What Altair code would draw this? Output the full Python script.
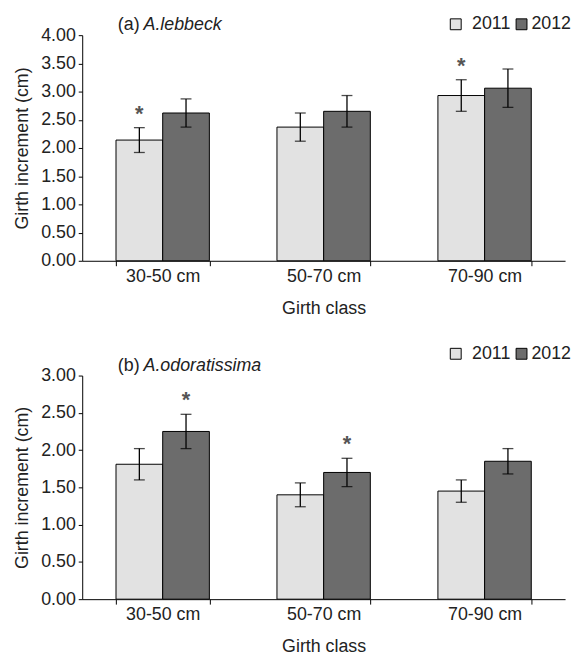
import altair as alt
import pandas as pd

classes = ["30-50 cm", "50-70 cm", "70-90 cm"]
years = ["2011", "2012"]

a_2011 = [2.14, 2.37, 2.93]
a_2012 = [2.62, 2.65, 3.06]
a_err_2011 = [0.22, 0.25, 0.28]
a_err_2012 = [0.25, 0.28, 0.34]
a_sig_2011 = ["*", "", "*"]
a_sig_2012 = ["", "", ""]

b_2011 = [1.81, 1.40, 1.45]
b_2012 = [2.25, 1.70, 1.85]
b_err_2011 = [0.21, 0.16, 0.15]
b_err_2012 = [0.23, 0.19, 0.17]
b_sig_2011 = ["", "", ""]
b_sig_2012 = ["*", "*", ""]

panel_labels = ["(a) ", "(b) "]
species = ["A.lebbeck", "A.odoratissima"]
y_max = [4.0, 3.0]
y_ticks_a = [0, 0.5, 1, 1.5, 2, 2.5, 3, 3.5, 4]
y_ticks_b = [0, 0.5, 1, 1.5, 2, 2.5, 3]

fill_colors = ["#e2e2e2", "#6c6c6c"]

FONT = "Liberation Sans"
FS = 18
TXT = "#222"


def make_df(v11, v12, e11, e12, s11, s12):
    rows = []
    for i, c in enumerate(classes):
        rows.append(dict(cls=c, year="2011", val=v11[i], lo=v11[i] - e11[i], hi=v11[i] + e11[i], sig=s11[i]))
        rows.append(dict(cls=c, year="2012", val=v12[i], lo=v12[i] - e12[i], hi=v12[i] + e12[i], sig=s12[i]))
    return pd.DataFrame(rows)


def panel(df, ymax, ticks, height, plabel, sp, leg_y):
    x = alt.X("cls:N", sort=classes, title="Girth class",
              scale=alt.Scale(paddingInner=0.42, paddingOuter=0.21),
              axis=alt.Axis(labelAngle=0, tickBand="extent", tickSize=5,
                            labelPadding=2, titlePadding=14))
    xo = alt.XOffset("year:N", sort=years, scale=alt.Scale(paddingInner=0, paddingOuter=0))
    yscale = alt.Scale(domain=[0, ymax], nice=False)
    yaxis = alt.Axis(format=".2f", values=ticks, title="Girth increment (cm)",
                     tickSize=4, labelPadding=3, titlePadding=9, labelOverlap=False)

    def Y(f):
        return alt.Y(f, scale=yscale, axis=yaxis)

    base = alt.Chart(df)
    bars = base.mark_bar(stroke="black", strokeWidth=1).encode(
        x=x, xOffset=xo, y=Y("val:Q"),
        color=alt.Color("year:N", sort=years,
                        scale=alt.Scale(domain=years, range=fill_colors), legend=None))
    err = base.mark_rule(color="black", strokeWidth=1.3).encode(
        x=x, xOffset=xo, y=Y("lo:Q"), y2="hi:Q")
    cap_hi = base.mark_tick(color="black", size=11, thickness=1.3).encode(
        x=x, xOffset=xo, y=Y("hi:Q"))
    cap_lo = base.mark_tick(color="black", size=11, thickness=1.3).encode(
        x=x, xOffset=xo, y=Y("lo:Q"))
    star = base.mark_text(dy=-14, fontSize=22, font=FONT, color="#555", fontWeight="bold").encode(
        x=x, xOffset=xo, y=Y("hi:Q"), text="sig:N")
    t1 = alt.Chart(pd.DataFrame({"t": [plabel]})).mark_text(
        align="left", baseline="alphabetic", font=FONT, fontSize=FS, color=TXT).encode(
        x=alt.value(36), y=alt.value(-5), text="t:N")
    t2 = alt.Chart(pd.DataFrame({"t": [sp]})).mark_text(
        align="left", baseline="alphabetic", font=FONT, fontSize=FS, fontStyle="italic",
        color=TXT).encode(x=alt.value(62), y=alt.value(-5), text="t:N")

    layers = [bars, err, cap_hi, cap_lo, star, t1, t2]
    sq_x = [377.5, 444]
    tx_x = [394, 454]
    for i, yr in enumerate(years):
        d = pd.DataFrame({"t": [yr]})
        layers.append(alt.Chart(d).mark_square(size=121, fill=fill_colors[i], stroke="black",
                                               strokeWidth=1, opacity=1).encode(
            x=alt.value(sq_x[i]), y=alt.value(leg_y)))
        layers.append(alt.Chart(d).mark_text(align="left", baseline="middle", font=FONT,
                                             fontSize=FS, color=TXT).encode(
            x=alt.value(tx_x[i]), y=alt.value(leg_y), text="t:N"))
    return alt.layer(*layers).properties(width=488, height=height)


df_a = make_df(a_2011, a_2012, a_err_2011, a_err_2012, a_sig_2011, a_sig_2012)
df_b = make_df(b_2011, b_2012, b_err_2011, b_err_2012, b_sig_2011, b_sig_2012)

pa = panel(df_a, y_max[0], y_ticks_a, 228, panel_labels[0], species[0], -11)
pb = panel(df_b, y_max[1], y_ticks_b, 226, panel_labels[1], species[1], -22)

chart = alt.vconcat(pa, pb, spacing=28).resolve_scale(color="independent").configure(
    padding={"left": 5, "top": 4, "right": 0, "bottom": 0}
).configure_view(stroke=None).configure_axis(
    grid=False, domainColor="black", tickColor="black", domainWidth=1, tickWidth=1,
    labelFont=FONT, labelFontSize=FS, labelColor=TXT,
    titleFont=FONT, titleFontSize=FS, titleFontWeight="normal", titleColor=TXT
)

chart.save("out.html", embed_options={"renderer": "svg", "actions": False})
